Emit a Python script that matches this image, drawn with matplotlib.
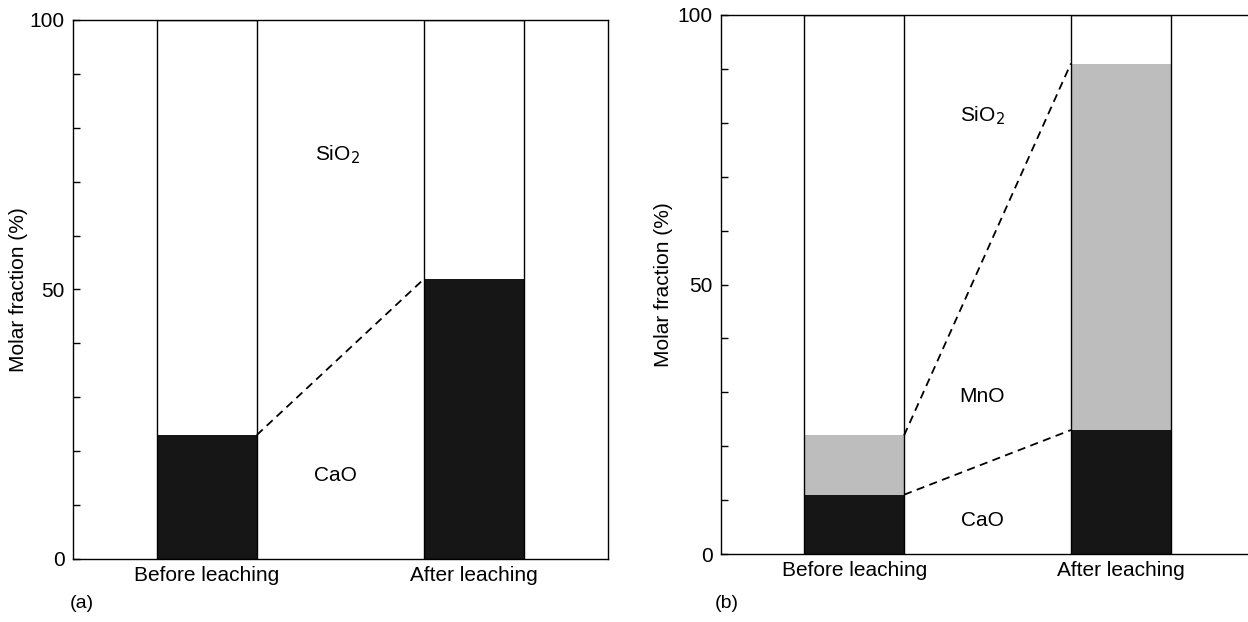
import numpy as np
import matplotlib
matplotlib.use("Agg")
import matplotlib.pyplot as plt

plt.rcParams['font.family'] = ['Liberation Sans', 'DejaVu Sans']

# data (molar fraction, %)
stages = ["Before leaching", "After leaching"]
cao_a = [23, 52]
cao_b = [11, 23]
mno_b = [11, 68]

DARK = '#161616'
GREY = '#bdbdbd'
W = 0.374
FS = 15


def draw_panel(ax, cao, mno, labels):
    x = np.arange(len(stages))
    cao = np.array(cao)
    mno = np.array(mno) if mno is not None else np.zeros(len(stages))
    ax.bar(x, cao, width=W, color=DARK, linewidth=0)
    if mno.any():
        ax.bar(x, mno, bottom=cao, width=W, color=GREY, linewidth=0)
    # full-height column outlines
    ax.bar(x, np.full(len(stages), 100), width=W, fill=False,
           edgecolor='black', linewidth=1.0)

    # dashed connectors between boundaries
    tops = [cao]
    if mno.any():
        tops.append(cao + mno)
    for t in tops:
        ax.plot([x[0] + W / 2, x[1] - W / 2], [t[0], t[1]], ls=(0, (4.5, 3)),
                color='black', lw=1.3)

    for txt, (lx, ly) in labels.items():
        ax.text(lx, ly, txt, ha='center', va='center', fontsize=FS)

    ax.set_xlim(-0.5, 1.5)
    ax.set_ylim(0, 100)
    ax.set_xticks(x)
    ax.set_xticklabels(stages, fontsize=FS)
    ax.tick_params(axis='x', length=0, pad=5)
    ax.set_yticks([0, 50, 100])
    ax.set_yticks(np.arange(0, 101, 10), minor=True)
    ax.tick_params(axis='y', which='both', direction='in', length=5,
                   width=1, labelsize=FS, pad=6)
    ax.set_ylabel("Molar fraction (%)", fontsize=FS)
    for s in ax.spines.values():
        s.set_linewidth(1.0)


fig = plt.figure(figsize=(12.48, 6.22), dpi=100)
ax1 = fig.add_axes([0.0585, 0.1013, 0.4287, 0.8666])
ax2 = fig.add_axes([0.5777, 0.1093, 0.4271, 0.8666])

draw_panel(ax1, cao_a, None, {"SiO$_2$": (0.49, 75), "CaO": (0.48, 15.4)})
draw_panel(ax2, cao_b, mno_b, {"SiO$_2$": (0.48, 81.3), "MnO": (0.48, 29.3),
                                "CaO": (0.48, 6.2)})

ax1.yaxis.set_label_coords(-0.084, 0.5)
ax2.yaxis.set_label_coords(-0.09, 0.5)

fig.text(70 / 1248, 1 - 603 / 622, "(a)", fontsize=14, ha='left', va='center')
fig.text(715 / 1248, 1 - 603 / 622, "(b)", fontsize=14, ha='left', va='center')

fig.savefig("out.png", dpi=100)
